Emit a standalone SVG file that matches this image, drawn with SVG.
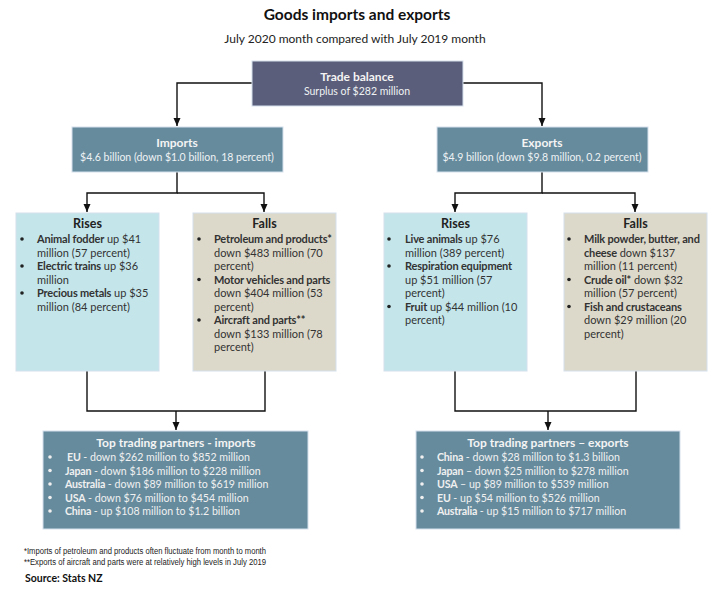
<svg xmlns="http://www.w3.org/2000/svg" width="722" height="594" viewBox="0 0 722 594">
<style>
text{font-family:Lato,"Liberation Sans",sans-serif;}
.t{font-size:15.5px;font-weight:bold;fill:#111;text-anchor:middle;}
.st{font-size:12px;fill:#222;text-anchor:middle;}
.hd{font-size:12px;font-weight:bold;fill:#f4f4f4;text-anchor:middle;}
.sub{font-size:10.5px;fill:#eef2f4;text-anchor:middle;}
.bh{font-size:12.5px;font-weight:bold;fill:#222;text-anchor:middle;}
.bd{font-size:11px;fill:#333;}
.pt{font-size:10.6px;fill:#f0f0f0;}
.b{font-weight:bold;letter-spacing:-0.18px;}
.dot{fill:#222;}
.wdot{fill:#f0f0f0;}
.fn{font-family:"Liberation Sans",Arial,sans-serif;font-size:8.5px;fill:#222;}
.src{font-size:10.5px;font-weight:bold;fill:#111;}
.bx{stroke:#d3e0ec;stroke-width:1;}
.con{fill:none;stroke:#111;stroke-width:1.4;}
</style>
<defs>
<marker id="ah" markerUnits="userSpaceOnUse" markerWidth="8" markerHeight="9" refX="4" refY="8" orient="0" viewBox="0 0 8 9">
<path d="M0.5,0 L7.5,0 L4,8 Z" fill="#111"/>
</marker>
</defs>
<rect width="722" height="594" fill="#fff"/>
<text class="t" x="357" y="20">Goods imports and exports</text>
<text class="st" x="355" y="43">July 2020 month compared with July 2019 month</text>

<g id="connectors">
<path class="con" d="M252,83 H177 V126" marker-end="url(#ah)"/>
<path class="con" d="M463,83 H542 V126" marker-end="url(#ah)"/>
<path class="con" d="M177,172 V193 H87 V212" marker-end="url(#ah)"/>
<path class="con" d="M177,193 H264 V212" marker-end="url(#ah)"/>
<path class="con" d="M542,172 V193 H455 V212" marker-end="url(#ah)"/>
<path class="con" d="M542,193 H635 V212" marker-end="url(#ah)"/>
<path class="con" d="M87,371 V411 H265 V371"/>
<path class="con" d="M176,411 V430" marker-end="url(#ah)"/>
<path class="con" d="M455,371 V411 H636 V371"/>
<path class="con" d="M548,411 V430" marker-end="url(#ah)"/>
</g>

<g id="trade-balance">
<rect class="bx" x="252" y="61" width="211" height="45" fill="#5b5e7a"/>
<text class="hd" x="357" y="81">Trade balance</text>
<text class="sub" x="357" y="95">Surplus of $282 million</text>
</g>

<g id="imports">
<rect class="bx" x="72" y="127" width="211" height="45" fill="#668b9d"/>
<text class="hd" x="177" y="147">Imports</text>
<text class="sub" x="177" y="161">$4.6 billion (down $1.0 billion, 18 percent)</text>
</g>

<g id="exports">
<rect class="bx" x="437" y="127" width="211" height="45" fill="#668b9d"/>
<text class="hd" x="542" y="147">Exports</text>
<text class="sub" x="542" y="161">$4.9 billion (down $9.8 million, 0.2 percent)</text>
</g>

<g id="imports-rises">
<rect class="bx" x="16" y="213" width="143" height="158" fill="#c4e6eb"/>
<text class="bh" x="87.5" y="228">Rises</text>
<circle class="dot" cx="22" cy="239" r="1.8"/>
<circle class="dot" cx="22" cy="266" r="1.8"/>
<circle class="dot" cx="22" cy="293" r="1.8"/>
<text class="bd" x="37" y="243"><tspan class="b">Animal fodder</tspan> up $41</text>
<text class="bd" x="37" y="256.5">million (57 percent)</text>
<text class="bd" x="37" y="270"><tspan class="b">Electric trains</tspan> up $36</text>
<text class="bd" x="37" y="283.5">million</text>
<text class="bd" x="37" y="297"><tspan class="b">Precious metals</tspan> up $35</text>
<text class="bd" x="37" y="310.5">million (84 percent)</text>
</g>

<g id="imports-falls">
<rect class="bx" x="193" y="213" width="143" height="158" fill="#ddd9ca"/>
<text class="bh" x="264.5" y="228">Falls</text>
<circle class="dot" cx="199" cy="239" r="1.8"/>
<circle class="dot" cx="199" cy="279.5" r="1.8"/>
<circle class="dot" cx="199" cy="320" r="1.8"/>
<text class="bd" x="214" y="243"><tspan class="b">Petroleum and products*</tspan></text>
<text class="bd" x="214" y="256.5">down $483 million (70</text>
<text class="bd" x="214" y="270">percent)</text>
<text class="bd" x="214" y="283.5"><tspan class="b">Motor vehicles and parts</tspan></text>
<text class="bd" x="214" y="297">down $404 million (53</text>
<text class="bd" x="214" y="310.5">percent)</text>
<text class="bd" x="214" y="324"><tspan class="b">Aircraft and parts**</tspan></text>
<text class="bd" x="214" y="337.5">down $133 million (78</text>
<text class="bd" x="214" y="351">percent)</text>
</g>

<g id="exports-rises">
<rect class="bx" x="384" y="213" width="143" height="158" fill="#c4e6eb"/>
<text class="bh" x="455.5" y="228">Rises</text>
<circle class="dot" cx="389" cy="239" r="1.8"/>
<circle class="dot" cx="389" cy="266" r="1.8"/>
<circle class="dot" cx="389" cy="306.5" r="1.8"/>
<text class="bd" x="405" y="243"><tspan class="b">Live animals</tspan> up $76</text>
<text class="bd" x="405" y="256.5">million (389 percent)</text>
<text class="bd" x="405" y="270"><tspan class="b">Respiration equipment</tspan></text>
<text class="bd" x="405" y="283.5">up $51 million (57</text>
<text class="bd" x="405" y="297">percent)</text>
<text class="bd" x="405" y="310.5"><tspan class="b">Fruit</tspan> up $44 million (10</text>
<text class="bd" x="405" y="324">percent)</text>
</g>

<g id="exports-falls">
<rect class="bx" x="564" y="213" width="143" height="158" fill="#ddd9ca"/>
<text class="bh" x="635.5" y="228">Falls</text>
<circle class="dot" cx="569" cy="239" r="1.8"/>
<circle class="dot" cx="569" cy="279.5" r="1.8"/>
<circle class="dot" cx="569" cy="306.5" r="1.8"/>
<text class="bd" x="584" y="243"><tspan class="b">Milk powder, butter, and</tspan></text>
<text class="bd" x="584" y="256.5"><tspan class="b">cheese</tspan> down $137</text>
<text class="bd" x="584" y="270">million (11 percent)</text>
<text class="bd" x="584" y="283.5"><tspan class="b">Crude oil*</tspan> down $32</text>
<text class="bd" x="584" y="297">million (57 percent)</text>
<text class="bd" x="584" y="310.5"><tspan class="b">Fish and crustaceans</tspan></text>
<text class="bd" x="584" y="324">down $29 million (20</text>
<text class="bd" x="584" y="337.5">percent)</text>
</g>

<g id="partners-imports">
<rect class="bx" x="43" y="431" width="265" height="98" fill="#668b9d"/>
<text class="hd" x="176" y="447">Top trading partners - imports</text>
<circle class="wdot" cx="50" cy="457" r="1.8"/>
<circle class="wdot" cx="50" cy="470.5" r="1.8"/>
<circle class="wdot" cx="50" cy="484" r="1.8"/>
<circle class="wdot" cx="50" cy="497.5" r="1.8"/>
<circle class="wdot" cx="50" cy="511" r="1.8"/>
<text class="pt" x="67" y="461"><tspan class="b">EU</tspan> - down $262 million to $852 million</text>
<text class="pt" x="65" y="474.5"><tspan class="b">Japan</tspan> - down $186 million to $228 million</text>
<text class="pt" x="65" y="488"><tspan class="b">Australia</tspan> - down $89 million to $619 million</text>
<text class="pt" x="65" y="501.5"><tspan class="b">USA</tspan> - down $76 million to $454 million</text>
<text class="pt" x="65" y="515"><tspan class="b">China</tspan> - up $108 million to $1.2 billion</text>
</g>

<g id="partners-exports">
<rect class="bx" x="416" y="431" width="264" height="98" fill="#668b9d"/>
<text class="hd" x="548" y="447">Top trading partners – exports</text>
<circle class="wdot" cx="422" cy="457" r="1.8"/>
<circle class="wdot" cx="422" cy="470.5" r="1.8"/>
<circle class="wdot" cx="422" cy="484" r="1.8"/>
<circle class="wdot" cx="422" cy="497.5" r="1.8"/>
<circle class="wdot" cx="422" cy="511" r="1.8"/>
<text class="pt" x="437" y="461"><tspan class="b">China</tspan> - down $28 million to $1.3 billion</text>
<text class="pt" x="437" y="474.5"><tspan class="b">Japan</tspan> – down $25 million to $278 million</text>
<text class="pt" x="437" y="488"><tspan class="b">USA</tspan> – up $89 million to $539 million</text>
<text class="pt" x="437" y="501.5"><tspan class="b">EU</tspan> - up $54 million to $526 million</text>
<text class="pt" x="437" y="515"><tspan class="b">Australia</tspan> - up $15 million to $717 million</text>
</g>

<text class="fn" x="24" y="554" textLength="242" lengthAdjust="spacingAndGlyphs">*Imports of petroleum and products often fluctuate from month to month</text>
<text class="fn" x="24" y="565" textLength="242" lengthAdjust="spacingAndGlyphs">**Exports of aircraft and parts were at relatively high levels in July 2019</text>
<text class="src" x="25" y="582">Source: Stats NZ</text>
</svg>
